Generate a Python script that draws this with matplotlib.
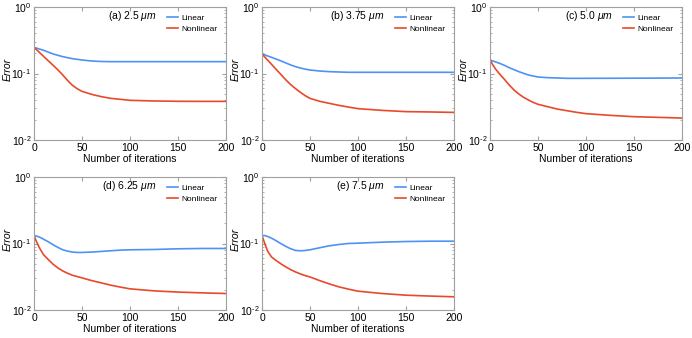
import matplotlib
matplotlib.use("Agg")
import matplotlib.pyplot as plt

plt.rcParams['font.family'] = ['Liberation Sans', 'DejaVu Sans']
plt.rcParams['mathtext.fontset'] = 'custom'
plt.rcParams['mathtext.rm'] = 'Liberation Sans'
plt.rcParams['mathtext.it'] = 'Liberation Sans:italic'
plt.rcParams['font.size'] = 7

# iteration samples
iters = [0, 3, 6, 10, 15, 20, 25, 30, 35, 40, 45, 50, 60, 70, 80, 90, 100, 125, 150, 175, 200]

# (a) 2.5 um
lin_a = [0.247, 0.240, 0.2325, 0.223, 0.2093, 0.1964, 0.1876, 0.1791, 0.173, 0.1671, 0.1633,
         0.1596, 0.1542, 0.1516, 0.1507, 0.1507, 0.1507, 0.1507, 0.1507, 0.1507, 0.1507]
non_a = [0.247, 0.2253, 0.2049, 0.181, 0.1545, 0.1327, 0.1129, 0.095, 0.0786, 0.0664, 0.0591,
         0.0539, 0.0486, 0.0449, 0.0423, 0.0409, 0.0395, 0.0386, 0.0382, 0.0381, 0.0381]
# (b) 3.75 um
lin_b = [0.1964, 0.19, 0.1833, 0.175, 0.1642, 0.1542, 0.1438, 0.1342, 0.1267, 0.121, 0.1162,
         0.1129, 0.109, 0.1066, 0.1054, 0.1042, 0.1042, 0.1042, 0.1042, 0.1042, 0.1042]
non_b = [0.1964, 0.1763, 0.1583, 0.137, 0.1144, 0.0956, 0.0798, 0.0679, 0.0591, 0.0521, 0.0464,
         0.0423, 0.0382, 0.0356, 0.0332, 0.0313, 0.0296, 0.0279, 0.0267, 0.0264, 0.026]
# (c) 5.0 um
lin_c = [0.1596, 0.1542, 0.149, 0.1422, 0.1327, 0.1224, 0.1142, 0.1066, 0.1006, 0.095, 0.0917,
         0.0886, 0.0866, 0.0856, 0.0846, 0.0846, 0.0846, 0.0848, 0.085, 0.0853, 0.0856]
non_c = [0.1596, 0.1342, 0.1155, 0.0983, 0.0817, 0.0672, 0.0565, 0.0492, 0.0438, 0.040, 0.0368,
         0.0344, 0.0317, 0.0292, 0.0276, 0.0261, 0.0249, 0.0235, 0.0224, 0.0219, 0.0214]
# (d) 6.25 um
lin_d = [0.1316, 0.1287, 0.1243, 0.116, 0.1059, 0.0955, 0.0872, 0.0804, 0.0768, 0.0743, 0.0734,
         0.0734, 0.0743, 0.076, 0.0778, 0.0795, 0.0804, 0.0813, 0.0832, 0.0842, 0.0842]
non_d = [0.1316, 0.1035, 0.0842, 0.0677, 0.0571, 0.0486, 0.0428, 0.0386, 0.0357, 0.0333, 0.0318,
         0.0304, 0.0277, 0.0256, 0.0236, 0.0221, 0.0208, 0.0194, 0.0186, 0.0181, 0.0177]
# (e) 7.5 um
lin_e = [0.1316, 0.1316, 0.1272, 0.1201, 0.1096, 0.0989, 0.0902, 0.0832, 0.0786, 0.0777, 0.0786,
         0.0804, 0.0862, 0.0923, 0.0966, 0.100, 0.1012, 0.1047, 0.1071, 0.1083, 0.1083]
non_e = [0.1316, 0.0989, 0.076, 0.0625, 0.0551, 0.0491, 0.0443, 0.0404, 0.0373, 0.0349, 0.0329,
         0.0314, 0.0277, 0.0247, 0.0223, 0.0206, 0.0192, 0.0177, 0.0167, 0.0162, 0.0158]

titles = ['(a) 2.5 $\\mathit{\\mu m}$', '(b) 3.75 $\\mathit{\\mu m}$', '(c) 5.0 $\\mathit{\\mu m}$',
          '(d) 6.25 $\\mathit{\\mu m}$', '(e) 7.5 $\\mathit{\\mu m}$']
linear = [lin_a, lin_b, lin_c, lin_d, lin_e]
nonlinear = [non_a, non_b, non_c, non_d, non_e]

blue = '#4d92f4'
red = '#e8492a'
grey = '#a0a0a0'

fig = plt.figure(figsize=(6.92, 3.38), dpi=100)
W, H = 692, 338
lefts = [34, 262, 490, 34, 262]
tops = [7, 7, 7, 177, 177]

for i in range(5):
    ax = fig.add_axes([lefts[i] / W, 1 - (tops[i] + 133) / H, 192 / W, 133 / H])
    ax.plot(iters, linear[i], color=blue, lw=1.2, label='Linear')
    ax.plot(iters, nonlinear[i], color=red, lw=1.2, label='Nonlinear')
    ax.set_yscale('log')
    ax.set_ylim(1e-2, 1)
    ax.set_xlim(0, 200)
    ax.set_xticks([0, 50, 100, 150, 200])
    ax.set_yticks([1e-2, 1e-1, 1])
    ax.set_yticklabels(['10$^{\\text{-}2}$', '10$^{\\text{-}1}$', '10$^{0}$'])
    ax.tick_params(which='both', direction='in', top=True, right=True,
                   color=grey, labelsize=7.5, pad=2)
    ax.tick_params(which='major', length=3)
    ax.tick_params(which='minor', length=1.5)
    ax.tick_params(axis='x', which='minor', bottom=False, top=False)
    for s in ax.spines.values():
        s.set_color(grey)
        s.set_linewidth(0.8)
    ax.set_xlabel('Number of iterations', fontsize=7.5, labelpad=1)
    ax.set_ylabel('Error', style='italic', fontsize=7.5)
    ax.yaxis.set_label_coords(-0.11, 0.53)
    ax.text(0.64, 0.932, titles[i], transform=ax.transAxes, ha='right', va='center', fontsize=7.5)
    ax.legend(loc='upper right', bbox_to_anchor=(0.955, 0.945), frameon=False, fontsize=6,
              handlelength=1.3, handletextpad=0.4, borderpad=0, borderaxespad=0,
              labelspacing=0.4)

fig.savefig('out.png', dpi=100)
